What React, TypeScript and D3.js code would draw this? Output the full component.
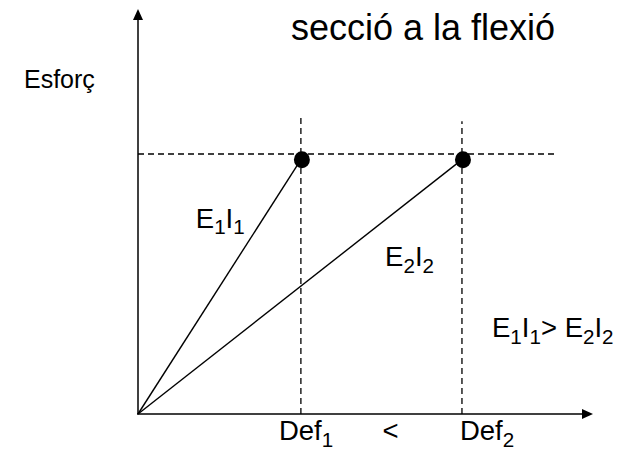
import React from "react";
import * as d3 from "d3";

const deformations = [35.8, 71.2];
const deformationLabels = ["Def", "Def"];
const subscripts = ["1", "2"];
const stressLevel = 62.8;
const guideLevel = 64.2;
const guideTopY = [73.3, 72.3];
const guideRightX = 91.6;
const stiffnessLabels = [
  { base: ["E", "I"], sub: ["1", "1"], x: 12.7, y: 46 },
  { base: ["E", "I"], sub: ["2", "2"], x: 54.3, y: 36.5 },
];
const comparisonLeft = { base: ["E", "I"], sub: ["1", "1"] };
const comparisonRight = { base: ["E", "I"], sub: ["2", "2"] };

const W = 626;
const H = 450;
const FONT = "'Liberation Sans', Arial, sans-serif";
const LABEL = 27.5;
const SUB = 0.75;
const SHIFT = 0.24;

function subParts(base: string[], sub: string[], size: number, startShifted = false) {
  const parts: React.ReactNode[] = [];
  let shifted = startShifted;
  base.forEach((b, i) => {
    parts.push(
      <tspan key={"b" + i} fontSize={size} dy={shifted ? -size * SHIFT : 0}>
        {b}
      </tspan>
    );
    parts.push(
      <tspan key={"s" + i} fontSize={size * SUB} dy={size * SHIFT}>
        {sub[i]}
      </tspan>
    );
    shifted = true;
  });
  return parts;
}

export default function App() {
  const x = d3.scaleLinear().domain([0, 100]).range([138, 593]);
  const y = d3.scaleLinear().domain([0, 100]).range([414, 9]);
  const line = d3
    .line<[number, number]>()
    .x((d) => x(d[0]))
    .y((d) => y(d[1]));
  const defLabelOffset = [-22, -2];

  return (
    <svg
      width={W}
      height={H}
      style={{ position: "absolute", left: 0, top: 0 }}
      fontFamily={FONT}
    >
      <rect width={W} height={H} fill="#fff" />
      {/* guide lines */}
      <g stroke="#000" strokeWidth={1.3} strokeDasharray="6,4" fill="none">
        <path d={line([[0, guideLevel], [guideRightX, guideLevel]]) || ""} />
        {deformations.map((d, i) => (
          <path key={i} d={line([[d, 0], [d, guideTopY[i]]]) || ""} />
        ))}
      </g>
      {/* stiffness lines */}
      <g stroke="#000" strokeWidth={1.4} fill="none">
        {deformations.map((d, i) => (
          <path key={i} d={line([[0, 0], [d, stressLevel]]) || ""} />
        ))}
      </g>
      {deformations.map((d, i) => (
        <ellipse key={i} cx={x(d) + 1} cy={y(stressLevel)} rx={8} ry={8.5} fill="#000" />
      ))}
      {/* axes */}
      <g stroke="#000" strokeWidth={1.5}>
        <line x1={x(0)} y1={y(0)} x2={x(0)} y2={y(100) + 8} />
        <line x1={x(0) - 1} y1={y(0)} x2={x(100) - 8} y2={y(0)} />
      </g>
      <path
        d={`M${x(0)},${y(100)} L${x(0) - 5},${y(100) + 11} L${x(0) + 5},${y(100) + 11} Z`}
        fill="#000"
      />
      <path
        d={`M${x(100)},${y(0)} L${x(100) - 11},${y(0) - 5} L${x(100) - 11},${y(0) + 5} Z`}
        fill="#000"
      />
      {/* texts */}
      <text x={291} y={40} fontSize={36} fill="#000">
        secció a la flexió
      </text>
      <text x={24} y={88} fontSize={25} fill="#000">
        Esforç
      </text>
      {stiffnessLabels.map((s, i) => (
        <text key={i} x={x(s.x)} y={y(s.y)} fill="#000">
          {subParts(s.base, s.sub, LABEL)}
        </text>
      ))}
      {deformations.map((d, i) => (
        <text key={i} x={x(d) + defLabelOffset[i]} y={440} fill="#000">
          {subParts([deformationLabels[i]], [subscripts[i]], LABEL)}
        </text>
      ))}
      <text
        x={(x(deformations[0]) + x(deformations[1])) / 2 + 9}
        y={440}
        fontSize={LABEL}
        fill="#000"
        textAnchor="middle"
      >
        {"<"}
      </text>
      <text x={492} y={337} fill="#000">
        {subParts(comparisonLeft.base, comparisonLeft.sub, LABEL)}
        <tspan fontSize={LABEL} dy={-LABEL * SHIFT}>
          {"> "}
        </tspan>
        {subParts(comparisonRight.base, comparisonRight.sub, LABEL)}
      </text>
    </svg>
  );
}
